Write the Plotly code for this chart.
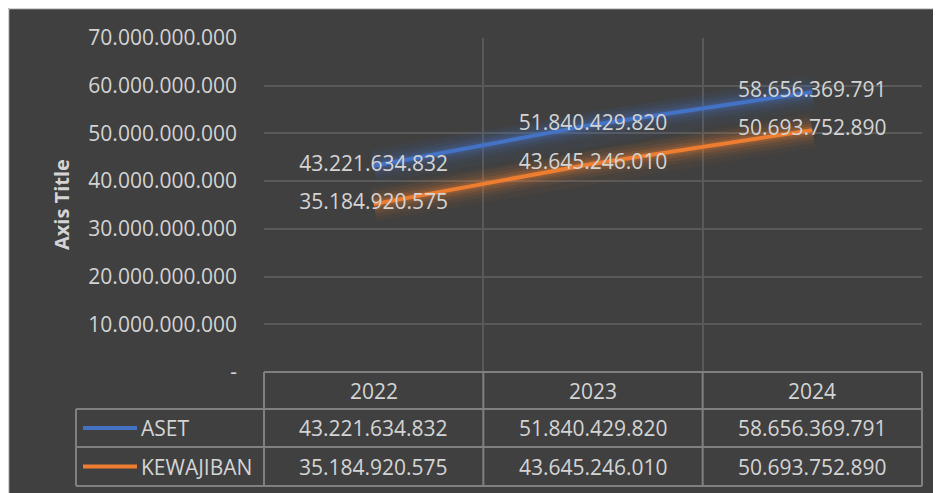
import plotly.graph_objects as go

categories = ["2022", "2023", "2024"]
series_names = ["ASET", "KEWAJIBAN"]
aset = [43221634832, 51840429820, 58656369791]
kewajiban = [35184920575, 43645246010, 50693752890]
y_tick_values = [0, 10e9, 20e9, 30e9, 40e9, 50e9, 60e9, 70e9]
axis_title = "Axis Title"


def fmt(v):
    return f"{v:,.0f}".replace(",", ".")


y_tick_text = ["-" if v == 0 else fmt(v) for v in y_tick_values]

W, H = 941, 493
OFF = 8  # page offset of the figure in the screenshot
ML, MR, MT, MB = 264 - OFF, W - (922 - OFF), 38 - OFF, H - (372 - OFF)
PW, PH = W - ML - MR, H - MT - MB


def px(x):
    # x given in screenshot pixels
    return (x - OFF - ML) / PW


def py(y):
    return (MT + PH - (y - OFF)) / PH


BG = "#404040"
TXT = "#d4d4d4"
GRID = "#595959"
TBL = "#808080"
FONT = "Open Sans"
FS = 21
colors = ["#4472C4", "#ED7D31"]
glow = ["rgba(68,114,196,{a})", "rgba(237,125,49,{a})"]
series = [aset, kewajiban]
xidx = list(range(len(categories)))

fig = go.Figure()

# glow layers
for s, vals in enumerate(series):
    for w, a in [(34, 0.05), (26, 0.07), (19, 0.10), (13, 0.14), (8, 0.2)]:
        fig.add_trace(go.Scatter(
            x=categories, y=vals, mode="lines",
            line=dict(color=glow[s].format(a=a), width=w),
            hoverinfo="skip", showlegend=False))
# main lines
for s, vals in enumerate(series):
    fig.add_trace(go.Scatter(
        x=categories, y=vals, mode="lines", name=series_names[s],
        line=dict(color=colors[s], width=4), showlegend=False))
# data labels
for s, vals in enumerate(series):
    fig.add_trace(go.Scatter(
        x=categories, y=vals, mode="text",
        texttemplate="%{y:,.0f}", textposition="middle center",
        textfont=dict(color=TXT, size=FS, family=FONT),
        hoverinfo="skip", showlegend=False))

shapes = []
annotations = []

# chart border (top and left edges visible)
shapes.append(dict(type="line", xref="paper", yref="paper",
                   x0=px(8.5), x1=px(W + 8), y0=py(8.5), y1=py(8.5),
                   line=dict(color="#d4d4d4", width=1.5), layer="above"))
shapes.append(dict(type="line", xref="paper", yref="paper",
                   x0=px(8.5), x1=px(8.5), y0=py(8.5), y1=py(H + 8),
                   line=dict(color="#d4d4d4", width=1.5), layer="above"))

# data table
row_edges = [372, 409, 447, 486]
leg_left = 76


def hline(x0, x1, y):
    shapes.append(dict(type="line", xref="paper", yref="paper",
                       x0=x0, x1=x1, y0=py(y), y1=py(y),
                       line=dict(color=TBL, width=2), layer="above"))


def vline(x, y0, y1):
    shapes.append(dict(type="line", xref="paper", yref="paper",
                       x0=x, x1=x, y0=py(y0), y1=py(y1),
                       line=dict(color=TBL, width=2), layer="above"))


hline(0, 1, row_edges[0])
for y in row_edges[1:]:
    hline(px(leg_left), 1, y)
vline(px(leg_left), row_edges[1], row_edges[3])
for k in range(len(categories) + 1):
    vline(k / len(categories), row_edges[0], row_edges[3])

# header cells
hdr_y = py((row_edges[0] + row_edges[1]) / 2)
for i, c in zip(xidx, categories):
    annotations.append(dict(x=i, xref="x", y=hdr_y, yref="paper",
                            text=c, showarrow=False, xanchor="center", yanchor="middle",
                            font=dict(color=TXT, size=FS, family=FONT)))
# series rows
for s, vals in enumerate(series):
    yc = py((row_edges[s + 1] + row_edges[s + 2]) / 2)
    shapes.append(dict(type="line", xref="paper", yref="paper",
                       x0=px(83), x1=px(137), y0=yc, y1=yc,
                       line=dict(color=colors[s], width=4), layer="above"))
    annotations.append(dict(x=px(139), xref="paper", y=yc, yref="paper",
                            text=series_names[s], showarrow=False,
                            xanchor="left", yanchor="middle",
                            font=dict(color=TXT, size=FS, family=FONT)))
    for i, v in zip(xidx, vals):
        annotations.append(dict(x=i, xref="x", y=yc, yref="paper",
                                text=fmt(v), showarrow=False,
                                xanchor="center", yanchor="middle",
                                font=dict(color=TXT, size=FS, family=FONT)))

# axis title
annotations.append(dict(x=px(61), xref="paper", y=py(205), yref="paper",
                        text=f"<b>{axis_title}</b>", textangle=-90, showarrow=False,
                        xanchor="center", yanchor="middle",
                        font=dict(color=TXT, size=20, family=FONT)))

fig.update_layout(
    width=W, height=H,
    margin=dict(l=ML, r=MR, t=MT, b=MB, pad=0),
    paper_bgcolor=BG, plot_bgcolor=BG,
    separators=",.",
    showlegend=False,
    shapes=shapes, annotations=annotations,
    xaxis=dict(type="category", range=[-0.5, 2.5], tickson="boundaries",
               showgrid=True, gridcolor=GRID, gridwidth=2,
               showticklabels=False, ticks="", zeroline=False,
               showline=False),
    yaxis=dict(range=[0, 70e9], tickvals=y_tick_values, ticktext=y_tick_text,
               showgrid=True, gridcolor=GRID, gridwidth=2, zeroline=False,
               tickfont=dict(color=TXT, size=FS, family=FONT),
               ticks="", ticklabelstandoff=26, showline=False),
)

fig.write_html("out.html")
